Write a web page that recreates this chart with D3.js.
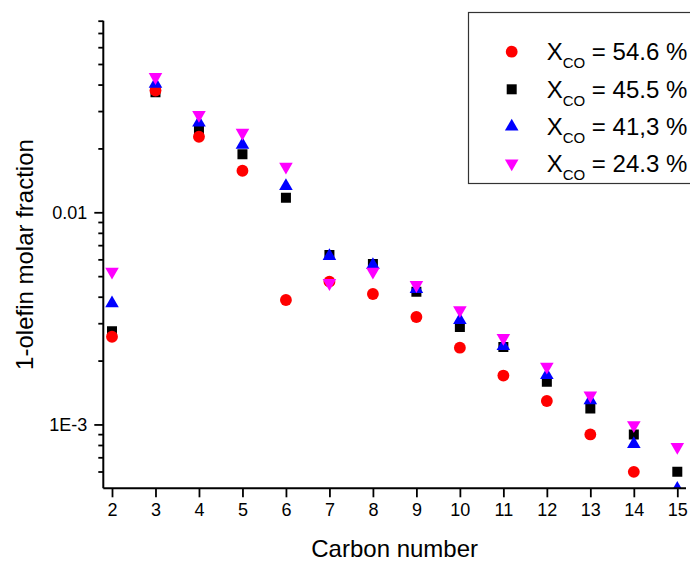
<!DOCTYPE html>
<html><head><meta charset="utf-8">
<script src="https://cdn.jsdelivr.net/npm/d3@7"></script>
<style>body{margin:0;background:#fff}svg{display:block}</style>
</head><body>
<svg id="c" width="690" height="562"></svg>
<script>
const carbonNumbers = [2,3,4,5,6,7,8,9,10,11,12,13,14,15];
const xco546 = [0.00259,0.0375,0.0227,0.0157,0.00386,0.00471,0.00412,0.00321,0.00230,0.00170,0.00129,0.000897,0.000598,null];
const xco455 = [0.00275,0.0368,0.0242,0.0188,0.0117,0.00629,0.00570,0.00422,0.00288,0.00232,0.00159,0.00119,0.000897,0.000598];
const xco413 = [0.00372,0.0403,0.0265,0.0208,0.0133,0.00622,0.00564,0.00435,0.00310,0.00234,0.00171,0.00130,0.000807,0.000497];
const xco243 = [0.00525,0.0434,0.0288,0.0237,0.0164,0.00464,0.00525,0.00454,0.00346,0.00256,0.00187,0.00137,0.000992,0.000784];
const seriesLabels = ["54.6 %","45.5 %","41,3 %","24.3 %"];
const yMajorTicks = [0.001,0.01];
const yMajorLabels = ["1E-3","0.01"];
const yMinorTicks = [0.0006,0.0007,0.0008,0.0009,0.002,0.003,0.004,0.005,0.006,0.007,0.008,0.009,0.02,0.03,0.04,0.05,0.06,0.07,0.08];

(function(){
const FONT = "'Liberation Sans', Arial, sans-serif";
const svg = d3.select("#c");
const pL = 103.3, pR = 686, pT = 20.7, pB = 488.3;
const x = d3.scaleLinear().domain([1.8,15.2]).range([pL,pR]);
const y = d3.scaleLog().domain([0.0005,0.08]).range([pB,pT]);

svg.append("defs").append("clipPath").attr("id","clip")
  .append("rect").attr("x",pL).attr("y",pT-10).attr("width",pR-pL+10).attr("height",pB-pT+10);

const series = [
  {vals: xco455, color:"#000000", sym: d3.symbolSquare, size:100, rot:0},
  {vals: xco546, color:"#ff0000", sym: d3.symbolCircle, size:110, rot:0},
  {vals: xco413, color:"#0000ff", sym: d3.symbolTriangle, size:80, rot:0},
  {vals: xco243, color:"#ff00ff", sym: d3.symbolTriangle, size:80, rot:180}
];

const plot = svg.append("g").attr("clip-path","url(#clip)");
series.forEach(s => {
  const pts = carbonNumbers.map((c,i)=>({c, v:s.vals[i]})).filter(d=>d.v!=null);
  plot.selectAll(null).data(pts).enter().append("path")
    .attr("d", d3.symbol().type(s.sym).size(s.size))
    .attr("transform", d=>`translate(${x(d.c)},${y(d.v)}) rotate(${s.rot})`)
    .attr("fill", s.color);
});

const xAxis = d3.axisBottom(x).tickValues(carbonNumbers).tickSize(9).tickPadding(6).tickFormat(d3.format("d"));
const gx = svg.append("g").attr("transform",`translate(0,${pB})`).call(xAxis);
gx.select(".domain").attr("d",`M${pL},0H${pR}`);
const yAxisMinor = d3.axisLeft(y).tickValues(yMinorTicks).tickSize(5).tickFormat("");
const gym = svg.append("g").attr("transform",`translate(${pL},0)`).call(yAxisMinor);
gym.select(".domain").remove();
const yAxis = d3.axisLeft(y).tickValues(yMajorTicks).tickSize(9).tickPadding(7)
  .tickFormat(d=>yMajorLabels[yMajorTicks.indexOf(d)]);
const gy = svg.append("g").attr("transform",`translate(${pL},0)`).call(yAxis);
gy.select(".domain").attr("d",`M0,${pT}V${pB}`);

svg.selectAll(".domain").attr("stroke","#000").attr("stroke-width",2);
svg.selectAll(".tick line").attr("stroke","#000").attr("stroke-width",1.8);
svg.selectAll(".tick text").attr("font-family",FONT).attr("font-size",18).attr("fill","#000");

svg.append("text").attr("x",(pL+pR)/2).attr("y",557).attr("text-anchor","middle")
  .attr("font-family",FONT).attr("font-size",24).text("Carbon number");
svg.append("text").attr("transform",`translate(33,${(pT+pB)/2}) rotate(-90)`).attr("text-anchor","middle")
  .attr("font-family",FONT).attr("font-size",24).text("1-olefin molar fraction");

svg.append("rect").attr("x",468.5).attr("y",12.5).attr("width",240).attr("height",171)
  .attr("fill","#fff").attr("stroke","#333").attr("stroke-width",1.2);
const legSeries = [series[1], series[0], series[2], series[3]];
const rowY = [51.7, 89.3, 126.7, 163.3];
legSeries.forEach((s,i)=>{
  svg.append("path").attr("d", d3.symbol().type(s.sym).size(s.size))
    .attr("transform",`translate(511.7,${rowY[i]}) rotate(${s.rot})`).attr("fill",s.color);
  const t = svg.append("text").attr("x",546.7).attr("y",rowY[i]+8.5)
    .attr("font-family",FONT).attr("font-size",24).attr("fill","#000");
  t.append("tspan").text("X");
  t.append("tspan").attr("dy",8).attr("font-size",15).text("CO");
  t.append("tspan").attr("dy",-8).text(" = " + seriesLabels[i]);
});
})();
</script>
</body></html>
